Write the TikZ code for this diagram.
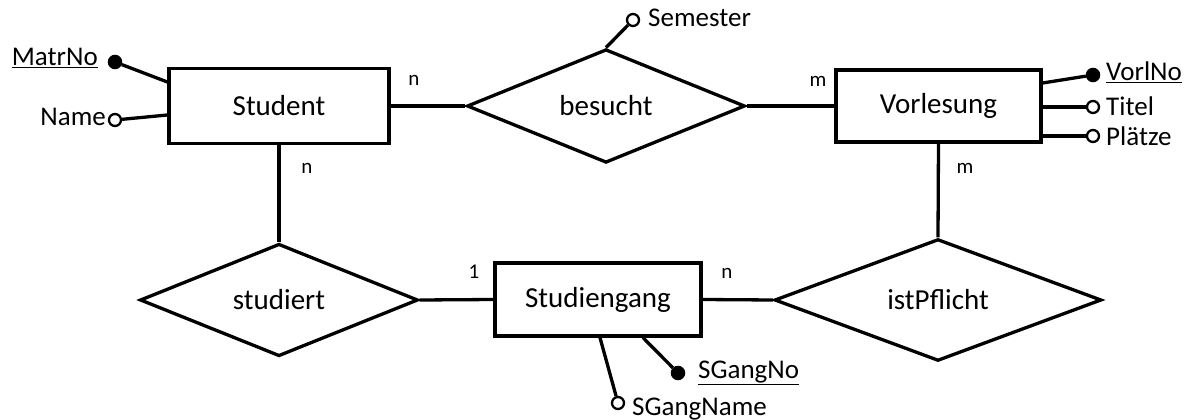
\documentclass[tikz,border=0pt]{standalone}
\usepackage{fontspec}
\setmainfont{Carlito}
\usetikzlibrary{shapes.geometric}
\begin{document}
\begin{tikzpicture}[x=1pt,y=-1pt,
  ent/.style={draw,line width=3.3pt,inner sep=0pt,font=\fontsize{29}{31}\selectfont},
  rel/.style={draw,diamond,line width=3.3pt,inner sep=0pt,font=\fontsize{29}{31}\selectfont},
  ln/.style={line width=3.3pt},
  keyc/.style={circle,fill=black,draw,minimum size=13pt,inner sep=0pt,line width=1.5pt},
  attc/.style={circle,draw,fill=white,minimum size=12pt,inner sep=0pt,line width=2.3pt},
  atext/.style={font=\fontsize{27}{29}\selectfont,inner sep=0pt},
  card/.style={font=\fontsize{21}{23}\selectfont,inner sep=0pt}]
\useasboundingbox (0,0) rectangle (1192,420);

% entities
\node[ent,minimum width=220pt,minimum height=75pt] (stud) at (279,106) {Student};
\node[ent,minimum width=205pt,minimum height=72pt] (vorl) at (938.5,106) {Vorlesung};
\node[ent,minimum width=206pt,minimum height=73pt] (sg) at (598,299.5) {Studiengang};

% relationships
\node[rel,minimum width=278pt,minimum height=102pt] (bes) at (606,106) {besucht};
\node[rel,minimum width=278pt,minimum height=104pt] (stu) at (279,300) {studiert};
\node[rel,minimum width=327pt,minimum height=104pt] (ist) at (938,300) {istPflicht};

% connectors
\draw[ln] (stud.east) -- (bes.west);
\draw[ln] (bes.east) -- (vorl.west);
\draw[ln] (stud.south) -- (stu.north);
\draw[ln] (vorl.south) -- (ist.north);
\draw[ln] (stu.east) -- (sg.west);
\draw[ln] (sg.east) -- (ist.west);

% cardinalities
\node[card,anchor=base] (c1) at (414,85) {n};
\node[card,anchor=base] (c2) at (818,86) {m};
\node[card,anchor=base] (c3) at (307,173) {n};
\node[card,anchor=base] (c4) at (965,173) {m};
\node[card,anchor=base] (c5) at (474,278) {1};
\node[card,anchor=base] (c6) at (727,278) {n};

% attributes
\node[keyc] (matrc) at (115,62) {};
\node[atext,anchor=base east] (matr) at (98,66) {\underline{MatrNo}};
\draw[ln] (matrc) -- ([yshift=24pt]stud.west);

\node[attc] (namec) at (115,120) {};
\node[atext,anchor=base east] (name) at (106,125) {Name};
\draw[ln] (namec) -- ([yshift=-9pt]stud.west);

\node[attc] (semc) at (633,20) {};
\node[atext,anchor=base west] (sem) at (648,27) {Semester};
\draw[ln] (bes.north) -- (semc);

\node[keyc] (vnoc) at (1093,75) {};
\node[atext,anchor=base west] (vno) at (1106,81) {\underline{VorlNo}};
\draw[ln] ([yshift=23pt]vorl.east) -- (vnoc);

\node[attc] (titc) at (1093,107) {};
\node[atext,anchor=base west] (tit) at (1106,115) {Titel};
\draw[ln] ([yshift=-1pt]vorl.east) -- (titc);

\node[attc] (plc) at (1093,136) {};
\node[atext,anchor=base west] (pl) at (1106,145) {Plätze};
\draw[ln] ([yshift=-30pt]vorl.east) -- (plc);

\node[keyc] (sgnoc) at (678,373) {};
\node[atext,anchor=base west] (sgno) at (698,378) {\underline{SGangNo}};
\draw[ln] ([xshift=45pt]sg.south) -- (sgnoc);

\node[attc] (sgnac) at (618,403) {};
\node[atext,anchor=base west] (sgna) at (632,415) {SGangName};
\draw[ln] ([xshift=2pt]sg.south) -- (sgnac);
\end{tikzpicture}
\end{document}
